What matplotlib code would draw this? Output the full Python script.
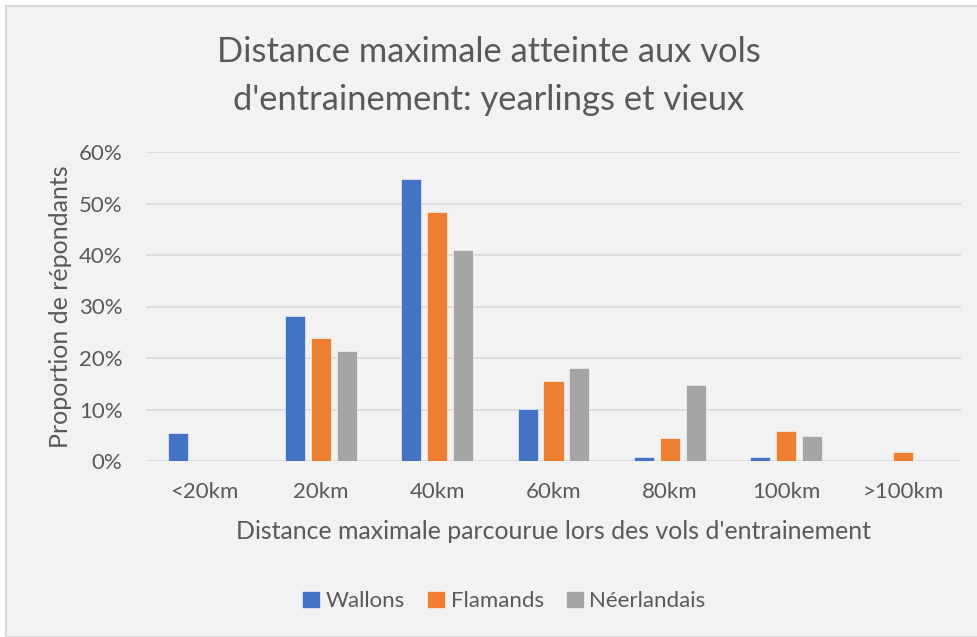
import numpy as np
import matplotlib.pyplot as plt
from matplotlib.patches import Rectangle

# data (fractions)
categories = ['<20km', '20km', '40km', '60km', '80km', '100km', '>100km']
wallons = [0.054, 0.281, 0.547, 0.101, 0.008, 0.008, 0.0]
flamands = [0.0, 0.238, 0.484, 0.156, 0.045, 0.059, 0.017]
neerlandais = [0.0, 0.213, 0.410, 0.180, 0.147, 0.049, 0.0]
series_names = ['Wallons', 'Flamands', 'Néerlandais']
colors = ['#4472C4', '#ED7D31', '#A5A5A5']
yticks = [0, 0.1, 0.2, 0.3, 0.4, 0.5, 0.6]

plt.rcParams['font.family'] = ['Lato', 'DejaVu Sans']
txt = '#595959'

fig = plt.figure(figsize=(9.78, 6.37), dpi=100)
fig.patch.set_facecolor('white')
# chart area frame like the Excel export
fig.patches.append(Rectangle((6 / 978, 0), 1, 1 - 6 / 637, transform=fig.transFigure,
                             facecolor='#F2F2F2', edgecolor='#D9D9D9', linewidth=1.5, zorder=-10))

ax = fig.add_axes([146 / 978, 1 - 461 / 637, (961 - 146) / 978, (461 - 152) / 637])
ax.set_facecolor('none')

x = np.arange(len(categories))
w = 0.172
step = 0.223
for i, (vals, name, c) in enumerate(zip([wallons, flamands, neerlandais], series_names, colors)):
    ax.bar(x + (i - 1) * step, vals, width=w, color=c, label=name,
           edgecolor='white', linewidth=0.4, zorder=3)

ax.set_xlim(-0.5, len(categories) - 0.5)
ax.set_ylim(0, 0.6)
ax.set_yticks(yticks)
ax.set_yticklabels([f'{int(round(v * 100))}%' for v in yticks], fontsize=16, color=txt)
ax.set_xticks(x)
ax.set_xticklabels(categories, fontsize=16, color=txt)
ax.tick_params(axis='both', length=0)
ax.tick_params(axis='y', pad=17)
ax.tick_params(axis='x', pad=15)
ax.grid(axis='y', color='#D9D9D9', linewidth=1.2, zorder=0)
for s in ax.spines.values():
    s.set_visible(False)

ax.set_ylabel('Proportion de répondants', fontsize=18, color=txt, labelpad=5)
ax.set_xlabel("Distance maximale parcourue lors des vols d'entrainement", fontsize=17.9,
              color=txt, labelpad=13)

fig.text(0.5, 1 - 76 / 637, "Distance maximale atteinte aux vols\nd'entrainement: yearlings et vieux",
         ha='center', va='center', fontsize=24.8, color=txt, linespacing=1.6)

leg = fig.legend(loc='center', bbox_to_anchor=(504 / 978, 1 - 601 / 637), ncol=3, frameon=False,
                 fontsize=16, handlelength=0.8, handleheight=0.8, handletextpad=0.25,
                 columnspacing=1.0)
for t in leg.get_texts():
    t.set_color(txt)

fig.savefig('out.png', dpi=100, facecolor=fig.get_facecolor())
